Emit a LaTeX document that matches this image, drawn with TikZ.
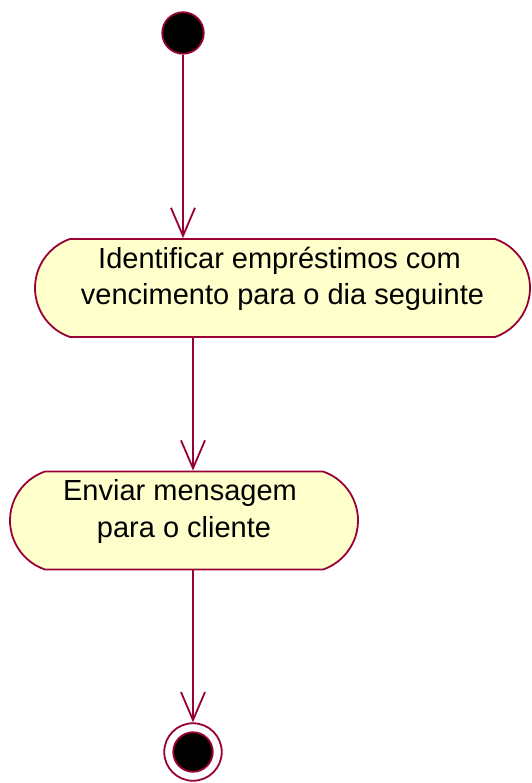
\documentclass[tikz,border=0pt]{standalone}
\usepackage{fontspec}
\setmainfont{Liberation Sans}
\usetikzlibrary{shapes.misc,arrows.meta}
\definecolor{umlred}{HTML}{990033}
\definecolor{umlfill}{HTML}{FFFFCC}
\tikzset{
  activity/.style={shape=rounded rectangle, rounded rectangle arc length=142,
    draw=umlred, fill=umlfill, line width=1.8pt, inner sep=0pt, minimum height=98pt},
  acttext/.style={align=center, font=\fontsize{29}{36.5}\selectfont, yshift=9pt},
  flow/.style={draw=umlred, line width=1.8pt, -{Straight Barb[length=28pt,width=24pt]}},
  startdot/.style={circle, fill=black, draw=umlred, line width=1.8pt, inner sep=0pt},
}
\begin{document}
\begin{tikzpicture}[x=1pt,y=-1pt]
  \useasboundingbox (0,0) rectangle (531,783);
  \node[startdot, minimum size=41.5pt] (start) at (183,33) {};
  \node[activity, minimum width=495pt,
    label={[acttext]center:Identificar empréstimos com\kern6pt\\vencimento para o dia seguinte}]
    (act1) at (282.5,288) {};
  \node[activity, minimum width=348pt,
    label={[acttext]center:Enviar mensagem\kern8pt\\para o cliente}]
    (act2) at (184,520.5) {};
  \node[circle, draw=umlred, fill=white, line width=1.8pt, inner sep=0pt,
    minimum size=57.5pt] (final) at (193,752) {};
  \node[startdot, minimum size=39.5pt] (finaldot) at (final) {};
  \draw[flow] (start) -- (start |- act1.north);
  \draw[flow] (act1.south -| final) -- (act2.north -| final);
  \draw[flow] (act2.south -| final) -- (final);
\end{tikzpicture}
\end{document}
